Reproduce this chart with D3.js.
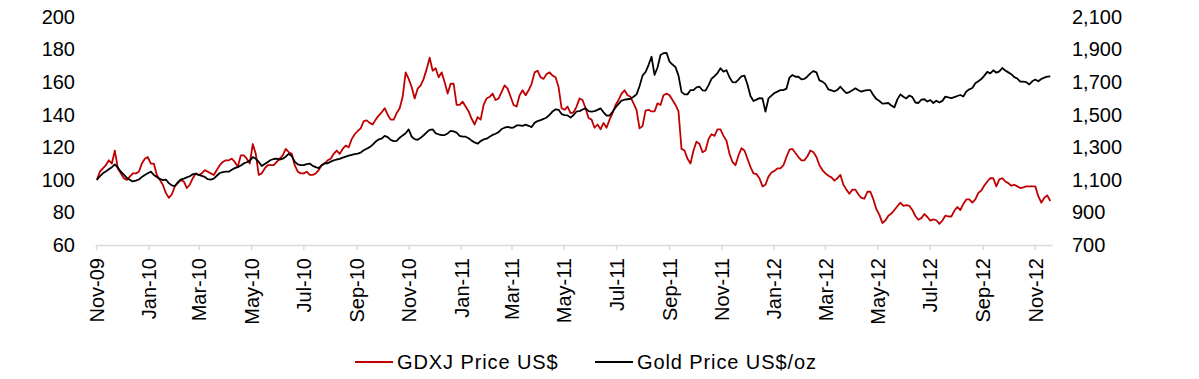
<!DOCTYPE html>
<html>
<head>
<meta charset="utf-8">
<script src="https://cdn.jsdelivr.net/npm/d3@7"></script>
<style>
    body { margin: 0; background: #fff; }
    text { font-family: "Liberation Sans", Arial, sans-serif; fill: #000; }
</style>
</head>
<body>
<div id="chart"></div>
<script>
// Prices, twice a week (first point = 2 Nov 2009, then every 3.5 days)
const gdxjPrice = [
    100, 105, 107, 109, 112, 110, 118, 107, 104, 101,
    100, 102, 104, 104, 105, 110, 113, 114, 110, 110,
    103, 100, 97, 92, 89, 91, 96, 98, 100, 99,
    95, 97, 101, 104, 103, 104, 106, 105, 104, 103,
    106, 109, 111, 112, 112, 113, 111, 108, 115, 115,
    113, 110, 122, 116, 103, 104, 107, 109, 109, 109,
    111, 113, 115, 119, 117, 116, 109, 105, 104, 104,
    105, 103, 103, 104, 106, 109, 110, 112, 113, 116,
    118, 116, 119, 121, 120, 125, 128, 130, 131.6, 136,
    136.5, 135, 134, 137, 139.5, 141.5, 144, 140, 137, 137,
    141, 144, 151, 166, 162, 157, 150, 156, 158, 162,
    168, 175, 167, 168.5, 163, 166, 160, 153, 159, 159,
    146, 146, 148, 145, 142, 137.5, 134, 138.5, 137, 146,
    150, 151, 153, 149, 150, 154, 158, 156, 151, 146,
    145, 152, 155, 152, 155, 159, 166, 167, 163, 162,
    165, 166, 164, 163, 157, 144, 143, 145, 141, 141.5,
    145, 150, 149, 144, 138, 137, 132, 134, 131, 135,
    132, 137, 141, 146, 149, 153, 155, 152, 151, 147,
    143, 131.6, 133, 142.5, 143, 142, 142, 147, 146, 152,
    153, 152, 149, 146, 142, 119, 118, 113, 110, 118,
    123.5, 122, 117, 118, 125, 128, 127, 131, 131, 127,
    124, 116, 111, 109, 115, 119.4, 118, 113, 108, 104,
    103.5, 101, 96, 97, 102, 104.5, 105.5, 107, 107, 109,
    114, 118.5, 119, 116.5, 114, 112, 112, 114.5, 118, 117,
    114, 109, 106, 104, 102.5, 101.5, 99.5, 101, 103, 97,
    94, 91.5, 94, 94, 91, 89, 88.5, 92.7, 92.7, 88,
    82, 78.5, 73.5, 75, 78, 79.3, 81.5, 83.8, 86, 84,
    84.5, 84, 81.5, 77.8, 75.5, 76.5, 79, 77.2, 75, 75.7,
    75.2, 73, 75, 78, 77.5, 77.5, 81, 83.3, 81.5, 85.2,
    88, 88, 86, 88, 92, 93.5, 96.5, 99, 101, 101,
    96, 100.3, 101, 99, 98, 96.4, 97, 96, 95, 95.4,
    96, 96, 96, 96, 90, 86, 89, 90.5, 87
];

const goldPrice = [
    1099, 1122, 1140, 1152, 1165, 1178, 1195, 1175, 1150, 1132,
    1112, 1100, 1090, 1095, 1102, 1117, 1130, 1141, 1150, 1130,
    1118, 1106, 1098, 1102, 1080, 1066, 1062, 1085, 1102, 1108,
    1115, 1122, 1135, 1137, 1130, 1124, 1118, 1104, 1102, 1108,
    1125, 1142, 1148, 1150, 1150, 1162, 1172, 1178, 1188, 1201,
    1208, 1218, 1240, 1230, 1210, 1185, 1198, 1210, 1222, 1228,
    1230, 1224, 1230, 1242, 1260, 1246, 1212, 1195, 1191, 1191,
    1196, 1200, 1186, 1178, 1172, 1190, 1202, 1202, 1212, 1220,
    1225, 1229, 1236, 1243, 1249, 1254, 1258, 1261, 1267, 1282,
    1291, 1301, 1316, 1335, 1348, 1353, 1370, 1362, 1345, 1338,
    1340, 1359, 1373, 1386, 1410, 1365, 1350, 1346, 1358, 1374,
    1392, 1407, 1410, 1386, 1380, 1375, 1375, 1385, 1401, 1398,
    1390, 1370, 1365, 1365, 1355, 1341, 1330, 1322, 1338, 1348,
    1353, 1365, 1376, 1383, 1393, 1412, 1420, 1425, 1420, 1421,
    1434, 1435, 1432, 1439, 1432, 1424, 1450, 1461, 1467, 1474,
    1483, 1499, 1520, 1533, 1530, 1504, 1498, 1496, 1482, 1498,
    1520, 1522, 1532, 1539, 1522, 1519, 1522, 1530, 1539, 1515,
    1495, 1495, 1518, 1545, 1566, 1586, 1592, 1595, 1598, 1610,
    1625, 1675, 1740, 1762, 1805, 1856, 1744, 1790, 1867, 1878,
    1880, 1826, 1808, 1792, 1740, 1640, 1625, 1625, 1651, 1651,
    1668, 1672, 1650, 1648, 1680, 1720, 1737, 1756, 1785, 1765,
    1773, 1730, 1700, 1698, 1715, 1736, 1740, 1685, 1615, 1584,
    1593, 1602, 1600, 1519, 1600, 1617, 1633, 1642, 1651, 1651,
    1660, 1728, 1744, 1733, 1733, 1717, 1720, 1735, 1754, 1768,
    1760, 1711, 1703, 1688, 1655, 1649, 1643, 1653, 1672, 1650,
    1633, 1639, 1650, 1662, 1650, 1642, 1648, 1651, 1651, 1620,
    1596, 1584, 1568, 1570, 1572, 1556, 1545, 1594, 1625, 1610,
    1600, 1618, 1608, 1575, 1572, 1593, 1595, 1581, 1590, 1572,
    1586, 1575, 1585, 1611, 1606, 1602, 1608, 1615, 1621, 1612,
    1643, 1656, 1664, 1693, 1705, 1719, 1740, 1763, 1754, 1773,
    1758, 1766, 1787, 1771, 1760, 1749, 1731, 1722, 1703, 1703,
    1700, 1686, 1705, 1716, 1705, 1719, 1728, 1734, 1735
];

const xTickLabels = ["Nov-09", "Jan-10", "Mar-10", "May-10", "Jul-10", "Sep-10", "Nov-10",
    "Jan-11", "Mar-11", "May-11", "Jul-11", "Sep-11", "Nov-11", "Jan-12", "Mar-12",
    "May-12", "Jul-12", "Sep-12", "Nov-12"];
const leftTicks = [60, 80, 100, 120, 140, 160, 180, 200];
const rightTicks = [700, 900, 1100, 1300, 1500, 1700, 1900, 2100];
const seriesNames = ["GDXJ Price US$", "Gold Price US$/oz"];

function createChart() {
    const width = 1199;
    const height = 379;
    const margin = { top: 17, right: 147, bottom: 134, left: 96 };
    const innerW = width - margin.left - margin.right;
    const innerH = height - margin.top - margin.bottom;

    const svg = d3.select("#chart")
        .append("svg")
        .attr("width", width)
        .attr("height", height);

    const g = svg.append("g")
        .attr("transform", `translate(${margin.left}, ${margin.top})`);

    // dates for the points: every 84 hours from the first one
    const startDate = new Date(Date.UTC(2009, 10, 2));
    const dates = gdxjPrice.map((d, i) => d3.utcHour.offset(startDate, 84 * i));

    const x = d3.scaleUtc()
        .domain([new Date(Date.UTC(2009, 10, 1)), new Date(Date.UTC(2012, 10, 21))])
        .range([0, innerW]);

    const yLeft = d3.scaleLinear().domain([60, 200]).range([innerH, 0]);
    const yRight = d3.scaleLinear().domain([700, 2100]).range([innerH, 0]);

    const parseTick = d3.utcParse("%b-%y");
    const tickDates = xTickLabels.map(parseTick);

    // x axis: light grey line with small ticks, rotated labels
    const xAxis = g.append("g")
        .attr("transform", `translate(0, ${innerH})`)
        .call(d3.axisBottom(x)
            .tickValues(tickDates)
            .tickSize(5)
            .tickSizeOuter(0)
            .tickFormat((d, i) => xTickLabels[i]));
    xAxis.select(".domain").attr("stroke", "#d9d9d9").attr("stroke-width", 1.5);
    xAxis.selectAll(".tick line").attr("stroke", "#d9d9d9").attr("stroke-width", 1.5);
    xAxis.selectAll(".tick text")
        .attr("font-size", "20px")
        .attr("text-anchor", "end")
        .attr("transform", "rotate(-90)")
        .attr("x", -13)
        .attr("y", 0)
        .attr("dy", "0.36em");

    // left axis (no line, labels only)
    const leftAxis = g.append("g")
        .call(d3.axisLeft(yLeft).tickValues(leftTicks).tickSize(0).tickPadding(21));
    leftAxis.select(".domain").remove();
    leftAxis.selectAll("text").attr("font-size", "20px");

    // right axis
    const rightAxis = g.append("g")
        .attr("transform", `translate(${innerW}, 0)`)
        .call(d3.axisRight(yRight).tickValues(rightTicks).tickSize(0).tickPadding(20)
            .tickFormat(d3.format(",")));
    rightAxis.select(".domain").remove();
    rightAxis.selectAll("text").attr("font-size", "20px");

    const gdxjLine = d3.line()
        .x((d, i) => x(dates[i]))
        .y(d => yLeft(d));

    const goldLine = d3.line()
        .x((d, i) => x(dates[i]))
        .y(d => yRight(d));

    g.append("path")
        .datum(gdxjPrice)
        .attr("fill", "none")
        .attr("stroke", "#c00000")
        .attr("stroke-width", 1.8)
        .attr("stroke-linejoin", "round")
        .attr("d", gdxjLine);

    g.append("path")
        .datum(goldPrice)
        .attr("fill", "none")
        .attr("stroke", "#000")
        .attr("stroke-width", 1.8)
        .attr("stroke-linejoin", "round")
        .attr("d", goldLine);

    // legend below the axis labels
    const legendItems = [
        { name: seriesNames[0], color: "#c00000", x: 355 },
        { name: seriesNames[1], color: "#000", x: 595 }
    ];
    const legend = svg.append("g").attr("transform", "translate(0, 362)");
    legendItems.forEach(item => {
        legend.append("line")
            .attr("x1", item.x)
            .attr("x2", item.x + 38)
            .attr("y1", 0)
            .attr("y2", 0)
            .attr("stroke", item.color)
            .attr("stroke-width", 1.8);
        legend.append("text")
            .attr("x", item.x + 42)
            .attr("y", 7)
            .attr("font-size", "20px")
            .attr("letter-spacing", "0.9px")
            .text(item.name);
    });
}

document.addEventListener("DOMContentLoaded", createChart);
</script>
</body>
</html>
